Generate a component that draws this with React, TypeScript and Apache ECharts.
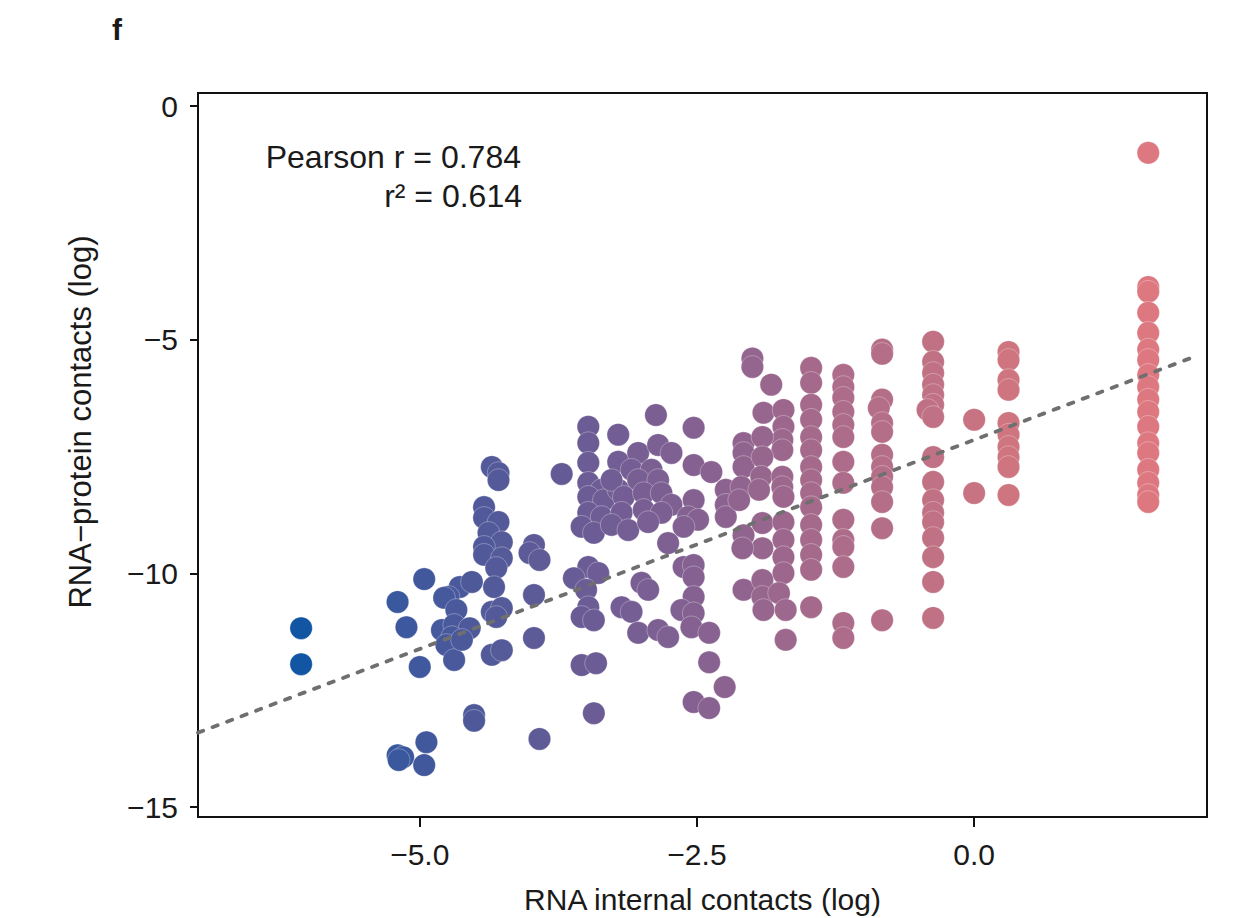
import React, { useEffect, useRef } from "react";
import * as echarts from "echarts";

// ---- data (x = RNA internal contacts (log), y = RNA-protein contacts (log)) ----
const LEFT_BLUE = [[-6.07,-11.17],[-6.07,-11.94],[-4.96,-10.12],[-5.20,-10.61],[-5.12,-11.15],[-5.00,-12.00],[-5.20,-13.89],[-5.15,-13.93],[-5.19,-13.99],[-4.94,-13.61],[-4.96,-14.10],[-4.51,-13.03],[-4.51,-13.15],[-3.92,-13.54]];
const CLUSTER_47 = [[-4.64,-10.29],[-4.53,-10.18],[-4.74,-10.50],[-4.78,-10.52],[-4.67,-10.78],[-4.80,-11.21],[-4.69,-11.10],[-4.55,-11.17],[-4.71,-11.36],[-4.76,-11.53],[-4.69,-11.85],[-4.62,-11.42]];
const COLUMN_43 = [[-4.35,-7.72],[-4.29,-7.85],[-4.29,-8.00],[-4.42,-8.58],[-4.42,-8.81],[-4.29,-8.90],[-4.38,-9.13],[-4.26,-9.33],[-4.42,-9.43],[-4.42,-9.60],[-4.26,-9.67],[-4.31,-9.88],[-4.33,-10.29],[-4.35,-10.82],[-4.26,-10.74],[-4.31,-10.93],[-4.35,-11.74],[-4.26,-11.64]];
const GROUP_40 = [[-3.97,-9.39],[-4.01,-9.56],[-3.92,-9.71],[-3.97,-10.46],[-3.97,-11.38],[-3.72,-7.87]];
const GROUP_35 = [[-3.48,-6.86],[-3.48,-7.21],[-3.48,-7.63],[-3.48,-8.06],[-3.36,-8.21],[-3.48,-8.36],[-3.34,-8.43],[-3.48,-8.70],[-3.36,-8.79],[-3.54,-9.00],[-3.43,-9.13],[-3.48,-9.86],[-3.39,-9.99],[-3.61,-10.10],[-3.50,-10.35],[-3.48,-10.72],[-3.54,-10.93],[-3.43,-11.00],[-3.54,-11.96],[-3.41,-11.92],[-3.43,-12.99]];
const GROUP_30 = [[-3.21,-7.03],[-2.87,-6.61],[-3.21,-7.61],[-3.03,-7.42],[-2.85,-7.25],[-2.73,-7.42],[-3.21,-8.21],[-3.27,-8.00],[-3.09,-7.78],[-2.91,-7.78],[-3.03,-8.00],[-2.85,-8.00],[-3.16,-8.36],[-2.98,-8.28],[-2.82,-8.28],[-2.73,-8.53],[-3.18,-8.70],[-3.27,-8.96],[-2.98,-8.64],[-2.82,-8.70],[-3.12,-9.07],[-2.94,-8.90],[-2.76,-9.35],[-3.00,-10.20],[-2.94,-10.35],[-3.18,-10.72],[-3.09,-10.82],[-3.03,-11.27],[-2.85,-11.21],[-2.76,-11.36]];
const GROUP_25 = [[-2.53,-6.88],[-2.53,-7.68],[-2.37,-7.83],[-2.53,-8.43],[-2.58,-8.79],[-2.49,-8.85],[-2.62,-9.00],[-2.62,-9.86],[-2.53,-9.82],[-2.53,-10.08],[-2.53,-10.50],[-2.64,-10.78],[-2.53,-10.85],[-2.55,-11.15],[-2.39,-11.27],[-2.39,-11.90],[-2.25,-12.43],[-2.53,-12.75],[-2.39,-12.88],[-2.24,-8.21],[-2.24,-8.53],[-2.24,-8.79]];
const GROUP_19 = [[-2.00,-5.40],[-2.00,-5.58],[-1.83,-5.96],[-1.90,-6.56],[-1.72,-6.50],[-1.72,-6.86],[-1.73,-7.14],[-1.73,-7.36],[-2.08,-7.21],[-1.91,-7.08],[-2.08,-7.42],[-2.08,-7.72],[-1.91,-7.51],[-1.92,-7.93],[-2.10,-8.15],[-1.94,-8.21],[-2.12,-8.43],[-1.73,-7.93],[-1.73,-8.15],[-1.72,-8.36],[-1.91,-8.92],[-2.08,-9.18],[-1.91,-9.46],[-2.09,-9.46],[-1.72,-8.90],[-1.72,-9.28],[-1.72,-9.65],[-1.72,-9.99],[-2.08,-10.35],[-1.91,-10.14],[-1.91,-10.50],[-1.76,-10.42],[-1.90,-10.78],[-1.70,-10.78],[-1.70,-11.42]];
const COL_147 = [[-1.47,-5.60],[-1.47,-5.92],[-1.47,-6.39],[-1.47,-6.71],[-1.47,-7.08],[-1.47,-7.36],[-1.47,-7.72],[-1.47,-8.00],[-1.47,-8.28],[-1.47,-8.58],[-1.47,-8.96],[-1.47,-9.28],[-1.47,-9.60],[-1.47,-9.92],[-1.47,-10.72]];
const COL_118 = [[-1.18,-5.75],[-1.18,-6.01],[-1.18,-6.24],[-1.18,-6.54],[-1.18,-6.82],[-1.18,-7.08],[-1.18,-7.61],[-1.18,-8.06],[-1.18,-8.85],[-1.18,-9.28],[-1.18,-9.43],[-1.18,-9.86],[-1.18,-11.06],[-1.18,-11.38]];
const COL_083 = [[-0.83,-5.21],[-0.83,-5.30],[-0.83,-6.28],[-0.86,-6.46],[-0.83,-6.78],[-0.83,-6.97],[-0.83,-7.46],[-0.83,-7.72],[-0.83,-7.93],[-0.83,-8.15],[-0.83,-8.47],[-0.83,-9.03],[-0.83,-11.00]];
const COL_037 = [[-0.37,-5.04],[-0.37,-5.47],[-0.37,-5.71],[-0.37,-5.96],[-0.37,-6.18],[-0.37,-6.39],[-0.42,-6.50],[-0.37,-6.65],[-0.37,-7.51],[-0.37,-8.04],[-0.37,-8.43],[-0.37,-8.70],[-0.37,-8.90],[-0.37,-9.24],[-0.37,-9.65],[-0.37,-10.18],[-0.37,-10.95]];
const COL_000 = [[0.0,-6.71],[0.0,-8.28]];
const COL_031 = [[0.31,-5.26],[0.31,-5.43],[0.31,-5.86],[0.31,-6.07],[0.31,-6.78],[0.31,-7.03],[0.31,-7.29],[0.31,-7.51],[0.31,-7.72],[0.31,-8.32]];
const COL_157 = [[1.57,-1.00],[1.57,-3.87],[1.57,-3.97],[1.57,-4.42],[1.57,-4.85],[1.57,-5.21],[1.57,-5.43],[1.57,-5.75],[1.57,-6.01],[1.57,-6.28],[1.57,-6.54],[1.57,-6.86],[1.57,-7.21],[1.57,-7.42],[1.57,-7.78],[1.57,-8.06],[1.57,-8.32],[1.57,-8.47]];

const X_TICKS = [-5, -2.5, 0];
const Y_TICKS = [-15, -10, -5, 0];
const X_RANGE = [-7.0, 2.1];
const Y_RANGE = [-15.21, 0.28];

// least-squares fit
const FIT_SLOPE = 0.895;
const FIT_INTERCEPT = -7.14;
const FIT_X = [-7.0, 2.0];

const PEARSON_R = "0.784";
const R_SQUARED = "0.614";
const X_TITLE = "RNA internal contacts (log)";
const Y_TITLE = "RNA\u2212protein contacts (log)";

const COLOR_STOPS = ["#1155a3", "#3d589e", "#585a98", "#725d94", "#8c6390", "#aa6b8a", "#c17183", "#d4777f", "#dd7880"];

const FONT = "'Liberation Sans', Arial, Helvetica, sans-serif";
const MINUS = "\u2212";
const fmtX = (v: number) => (v < 0 ? MINUS : "") + Math.abs(v).toFixed(1);
const fmtY = (v: number) => (v < 0 ? MINUS : "") + Math.abs(v).toFixed(0);

export default function App() {
  const ref = useRef<HTMLDivElement>(null);
  useEffect(() => {
    document.body.style.margin = "0";
    const chart = echarts.init(ref.current!, null, { renderer: "svg" });
    const points = [
      ...LEFT_BLUE, ...CLUSTER_47, ...COLUMN_43, ...GROUP_40, ...GROUP_35, ...GROUP_30,
      ...GROUP_25, ...GROUP_19, ...COL_147, ...COL_118, ...COL_083, ...COL_037, ...COL_000,
      ...COL_031, ...COL_157,
    ];
    const xs = points.map((p) => p[0]);
    const fit = FIT_X.map((x) => [x, FIT_INTERCEPT + FIT_SLOPE * x]);
    const axisColor = "#111";
    const textColor = "#1a1a1a";
    chart.setOption({
      animation: false,
      backgroundColor: "#fff",
      grid: {
        left: 198, right: 53, top: 93, bottom: 101,
        outerBoundsMode: "none", containLabel: false,
        show: true, borderColor: axisColor, borderWidth: 2, backgroundColor: "transparent",
      },
      xAxis: {
        type: "value",
        min: X_RANGE[0],
        max: X_RANGE[1],
        name: X_TITLE,
        nameLocation: "middle",
        nameGap: 67,
        nameTextStyle: { fontFamily: FONT, fontSize: 30, color: textColor },
        axisLine: { show: true, onZero: false, lineStyle: { color: axisColor, width: 2 } },
        axisTick: { show: true, length: 10, customValues: X_TICKS, lineStyle: { color: axisColor, width: 2 } },
        axisLabel: { customValues: X_TICKS, formatter: fmtX, fontFamily: FONT, fontSize: 30, color: textColor, margin: 22 },
        splitLine: { show: false },
      },
      yAxis: {
        type: "value",
        min: Y_RANGE[0],
        max: Y_RANGE[1],
        axisLine: { show: true, onZero: false, lineStyle: { color: axisColor, width: 2 } },
        axisTick: { show: true, length: 8, customValues: Y_TICKS, lineStyle: { color: axisColor, width: 2 } },
        axisLabel: { customValues: Y_TICKS, formatter: fmtY, fontFamily: FONT, fontSize: 30, color: textColor, margin: 20 },
        splitLine: { show: false },
      },
      visualMap: {
        show: false,
        type: "continuous",
        dimension: 0,
        seriesIndex: 0,
        min: Math.min(...xs),
        max: Math.max(...xs),
        inRange: { color: COLOR_STOPS },
      },
      series: [
        {
          type: "scatter",
          data: points,
          symbol: "circle",
          symbolSize: 22.5,
          itemStyle: { opacity: 1, borderColor: "rgba(255,255,255,0.6)", borderWidth: 0.5 },
          z: 2,
        },
        {
          type: "line",
          data: fit,
          showSymbol: false,
          symbol: "none",
          lineStyle: { color: "#6f6f6f", width: 3.8, type: [5.5, 10], cap: "round" },
          z: 3,
        },
      ],
      graphic: [
        { type: "text", left: 112, top: 14, style: { text: "f", font: `bold 30px ${FONT}`, fill: textColor } },
        { type: "text", x: 80, y: 422, rotation: Math.PI / 2, style: { text: Y_TITLE, font: `31px ${FONT}`, fill: textColor, textAlign: "center", textVerticalAlign: "middle" } },
        { type: "text", x: 521, y: 157, style: { text: `Pearson r = ${PEARSON_R}`, font: `32px ${FONT}`, fill: textColor, textAlign: "right", textVerticalAlign: "middle" } },
        { type: "text", x: 522, y: 196, style: { text: `r\u00b2 = ${R_SQUARED}`, font: `32px ${FONT}`, fill: textColor, textAlign: "right", textVerticalAlign: "middle" } },
      ],
    });
    return () => chart.dispose();
  }, []);
  return <div ref={ref} style={{ width: 1260, height: 918 }} />;
}
